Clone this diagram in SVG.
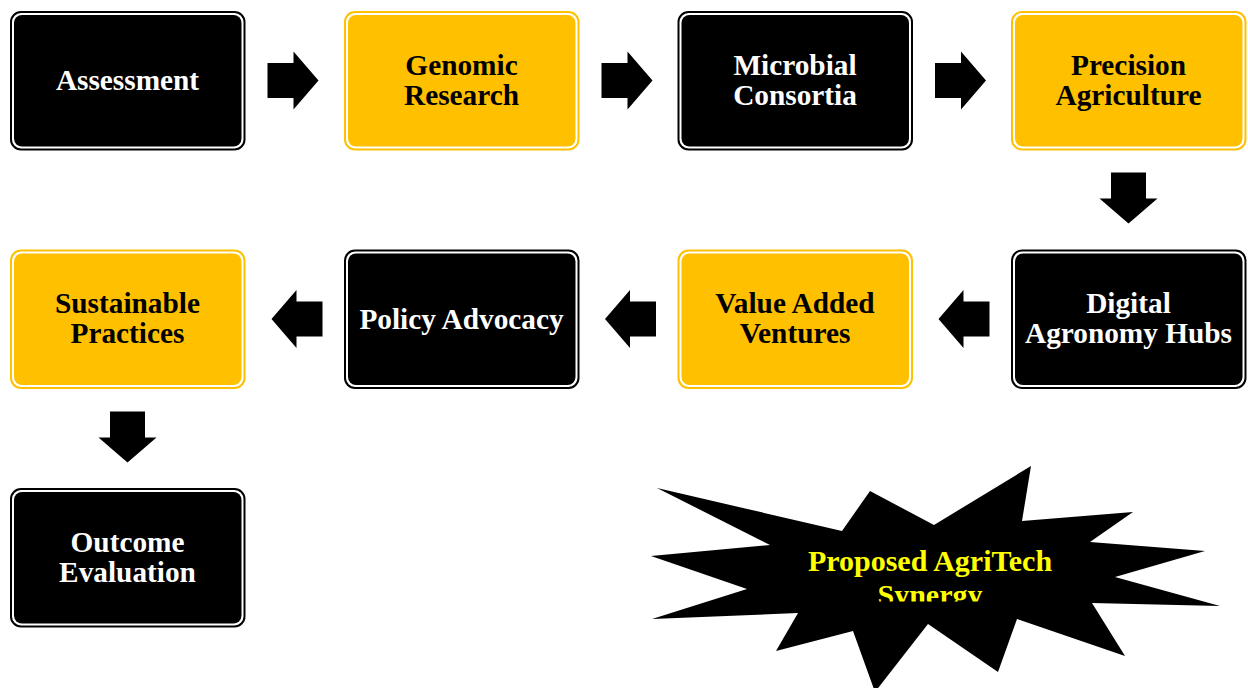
<svg xmlns="http://www.w3.org/2000/svg" width="1248" height="688" viewBox="0 0 1248 688">
  <style>
    .frame-dark { fill: #ffffff; stroke: #000000; stroke-width: 2; }
    .frame-gold { fill: #ffffff; stroke: #ffc000; stroke-width: 2; }
    .fill-dark { fill: #000000; }
    .fill-gold { fill: #ffc000; }
    .lbl { font-family: "Liberation Serif", "Times New Roman", serif; font-weight: bold; font-size: 29.3px; text-anchor: middle; }
    .lbl-light { fill: #ffffff; }
    .lbl-dark { fill: #000000; }
    .burst { fill: #000000; }
    .burst-lbl { font-family: "Liberation Serif", "Times New Roman", serif; font-weight: bold; font-size: 30px; text-anchor: middle; fill: #ffff00; }
    .arrow { fill: #000000; }
  </style>
  <defs>
    <!-- block arrow pointing right, origin at the tail centre -->
    <path id="blockArrow" d="M0,-17.5 H26 V-29 L51,0 L26,29 V17.5 H0 Z"/>
    <clipPath id="burstTextClip">
      <rect x="640" y="530" width="600" height="71.5"/>
    </clipPath>
  </defs>

  <rect width="1248" height="688" fill="#ffffff"/>

  <!-- row 1 -->
  <g id="node-assessment">
    <rect class="frame-dark" x="11" y="12" width="233.5" height="137.5" rx="10"/>
    <rect class="fill-dark" x="14" y="15" width="227.5" height="131.5" rx="8"/>
    <text class="lbl lbl-light" x="127.5" y="90">Assessment</text>
  </g>
  <g id="node-genomic-research">
    <rect class="frame-gold" x="345" y="12" width="233.5" height="137.5" rx="10"/>
    <rect class="fill-gold" x="348" y="15" width="227.5" height="131.5" rx="8"/>
    <text class="lbl lbl-dark" x="461.5" y="75">Genomic</text>
    <text class="lbl lbl-dark" x="461.5" y="104.5">Research</text>
  </g>
  <g id="node-microbial-consortia">
    <rect class="frame-dark" x="678.5" y="12" width="233.5" height="137.5" rx="10"/>
    <rect class="fill-dark" x="681.5" y="15" width="227.5" height="131.5" rx="8"/>
    <text class="lbl lbl-light" x="795" y="75">Microbial</text>
    <text class="lbl lbl-light" x="795" y="104.5">Consortia</text>
  </g>
  <g id="node-precision-agriculture">
    <rect class="frame-gold" x="1012" y="12" width="233.5" height="137.5" rx="10"/>
    <rect class="fill-gold" x="1015" y="15" width="227.5" height="131.5" rx="8"/>
    <text class="lbl lbl-dark" x="1128.5" y="75">Precision</text>
    <text class="lbl lbl-dark" x="1128.5" y="104.5">Agriculture</text>
  </g>

  <!-- row 2 -->
  <g id="node-sustainable-practices">
    <rect class="frame-gold" x="11" y="250.5" width="233.5" height="137.5" rx="10"/>
    <rect class="fill-gold" x="14" y="253.5" width="227.5" height="131.5" rx="8"/>
    <text class="lbl lbl-dark" x="127.5" y="313">Sustainable</text>
    <text class="lbl lbl-dark" x="127.5" y="343">Practices</text>
  </g>
  <g id="node-policy-advocacy">
    <rect class="frame-dark" x="345" y="250.5" width="233.5" height="137.5" rx="10"/>
    <rect class="fill-dark" x="348" y="253.5" width="227.5" height="131.5" rx="8"/>
    <text class="lbl lbl-light" x="461.5" y="328.5">Policy Advocacy</text>
  </g>
  <g id="node-value-added-ventures">
    <rect class="frame-gold" x="678.5" y="250.5" width="233.5" height="137.5" rx="10"/>
    <rect class="fill-gold" x="681.5" y="253.5" width="227.5" height="131.5" rx="8"/>
    <text class="lbl lbl-dark" x="795" y="313">Value Added</text>
    <text class="lbl lbl-dark" x="795" y="343">Ventures</text>
  </g>
  <g id="node-digital-agronomy-hubs">
    <rect class="frame-dark" x="1012" y="250.5" width="233.5" height="137.5" rx="10"/>
    <rect class="fill-dark" x="1015" y="253.5" width="227.5" height="131.5" rx="8"/>
    <text class="lbl lbl-light" x="1128.5" y="313">Digital</text>
    <text class="lbl lbl-light" x="1128.5" y="343">Agronomy Hubs</text>
  </g>

  <!-- row 3 -->
  <g id="node-outcome-evaluation">
    <rect class="frame-dark" x="11" y="489" width="233.5" height="137.5" rx="10"/>
    <rect class="fill-dark" x="14" y="492" width="227.5" height="131.5" rx="8"/>
    <text class="lbl lbl-light" x="127.5" y="552">Outcome</text>
    <text class="lbl lbl-light" x="127.5" y="582">Evaluation</text>
  </g>

  <!-- flow arrows -->
  <g id="connectors">
    <use href="#blockArrow" class="arrow" transform="translate(267.5,80.5)"/>
    <use href="#blockArrow" class="arrow" transform="translate(601.5,80.5)"/>
    <use href="#blockArrow" class="arrow" transform="translate(935,80.5)"/>
    <use href="#blockArrow" class="arrow" transform="translate(1128.5,172.5) rotate(90)"/>
    <use href="#blockArrow" class="arrow" transform="translate(989.5,319) rotate(180)"/>
    <use href="#blockArrow" class="arrow" transform="translate(656,319) rotate(180)"/>
    <use href="#blockArrow" class="arrow" transform="translate(322.5,319) rotate(180)"/>
    <use href="#blockArrow" class="arrow" transform="translate(127.5,411.5) rotate(90)"/>
  </g>

  <!-- explosion callout -->
  <g id="node-agritech-synergy">
    <polygon class="burst" points="657,488 842,531 870,491 934,525 1031,466 1022,521 1133,512 1090,542 1205,551 1115,577 1220,606 1092,603 1125,656 1017,619 998,672 928,624 875,692 853,631 776,651 798,613 652,619 747,589 651,556 770,545"/>
    <g clip-path="url(#burstTextClip)">
      <text class="burst-lbl" x="930" y="571">Proposed AgriTech</text>
      <text class="burst-lbl" x="930" y="604.5">Synergy</text>
    </g>
  </g>
</svg>
